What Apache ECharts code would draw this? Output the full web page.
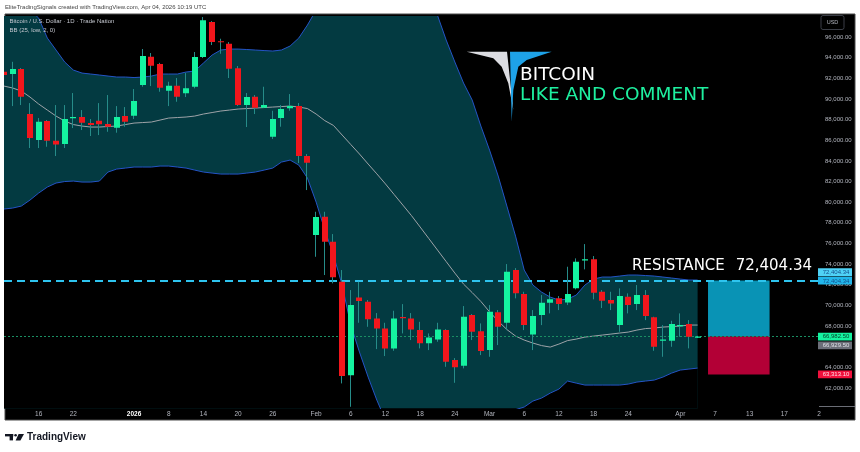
<!DOCTYPE html>
<html><head><meta charset="utf-8">
<script src="https://cdn.jsdelivr.net/npm/echarts@6/dist/echarts.min.js"></script>
<style>html,body{margin:0;padding:0;background:#fff;}#c{width:860px;height:452px;}</style>
</head><body><div id="c"></div>
<script>
// ---- data ----
const dates = ['2025-12-10','2025-12-11','2025-12-12','2025-12-15','2025-12-16','2025-12-17','2025-12-18','2025-12-19','2025-12-22','2025-12-23','2025-12-24','2025-12-26','2025-12-29','2025-12-30','2025-12-31',
'2026-01-02','2026-01-05','2026-01-06','2026-01-07','2026-01-08','2026-01-09','2026-01-12','2026-01-13','2026-01-14','2026-01-15','2026-01-16','2026-01-19','2026-01-20','2026-01-21','2026-01-22','2026-01-23','2026-01-26','2026-01-27','2026-01-28','2026-01-29','2026-01-30',
'2026-02-02','2026-02-03','2026-02-04','2026-02-05','2026-02-06','2026-02-09','2026-02-10','2026-02-11','2026-02-12','2026-02-13','2026-02-16','2026-02-17','2026-02-18','2026-02-19','2026-02-20','2026-02-23','2026-02-24','2026-02-25','2026-02-26','2026-02-27',
'2026-03-02','2026-03-03','2026-03-04','2026-03-05','2026-03-06','2026-03-09','2026-03-10','2026-03-11','2026-03-12','2026-03-13','2026-03-16','2026-03-17','2026-03-18','2026-03-19','2026-03-20','2026-03-23','2026-03-24','2026-03-25','2026-03-26','2026-03-27','2026-03-30','2026-03-31',
'2026-04-01','2026-04-02','2026-04-03','2026-04-06','2026-04-07','2026-04-08','2026-04-09','2026-04-10','2026-04-13','2026-04-14','2026-04-15','2026-04-16','2026-04-17','2026-04-20','2026-04-21','2026-04-22','2026-04-23'];

const tickIndex = [4,8,15,19,23,27,31,36,40,44,48,52,56,60,64,68,72,78,82,86,90,94];
const tickText  = ['16','22','2026','8','14','20','26','Feb','6','12','18','24','Mar','6','12','18','24','Apr','7','13','17','2'];

const open  = [92640,92415,92900,88540,86020,87860,85950,85630,88200,88250,87670,87890,87570,87210,88345,88375,91350,94090,93385,90800,91280,90545,91185,94060,97455,95600,95350,92965,89410,90215,89150,86340,88150,89090,89315,84470,76815,78590,76165,72290,63220,70775,70350,68740,67770,65835,68870,68740,67605,66320,66705,67605,64700,64150,69060,67505,65670,69325,68315,73425,71095,67190,69060,70255,70680,70290,71650,74400,74460,71320,70515,68090,70835,70125,71000,68840,66570,66570,67990,68185,66900];
const close = [92320,92900,90215,86210,87790,85950,85600,88055,88250,87700,87470,87540,87310,88250,87790,89800,94160,93220,91090,91280,90215,91030,94060,97620,95515,95545,92930,89410,90185,89150,89410,88055,89020,89315,84470,83820,78560,76165,72715,63150,70030,70420,68645,67770,65835,68740,68840,67670,66320,66900,67670,64535,63995,68895,67440,65575,69380,67925,73260,71165,68090,68965,70255,70585,70125,71095,74225,74460,71225,70445,70195,70905,70030,71000,68965,65990,66705,68185,68090,66960,66982.5];
const low   = [92030,89310,89410,85245,85245,85370,84470,85245,87180,86990,86410,86500,86820,86730,87310,88055,91185,91250,90700,89310,89730,90185,91030,93965,95225,94380,92030,89310,87280,88540,89120,86115,87310,88860,83790,81175,74710,72940,72135,62440,60175,68315,67925,65765,65090,65600,67285,66640,65835,65670,66475,64050,62500,63895,66640,65185,65020,66155,67605,70680,67605,65670,68090,69225,69545,70030,71550,73490,70585,69740,69545,67440,69225,69545,68575,65600,65020,65990,66960,65835,66850];
const high  = [92900,93600,93000,89600,88150,87960,89410,89410,90575,88925,88055,89600,90380,89310,89215,90960,94840,94450,93500,91670,92030,92510,94550,97940,97550,95835,95515,93190,90575,90380,91185,88860,89410,90475,89605,84665,79070,79070,76910,73425,71485,72290,70515,69255,68315,69480,70125,69255,68410,67285,68315,67700,64895,69935,69160,68255,70030,69545,74005,73615,71320,69545,71000,71320,70905,73745,74555,75940,74780,71485,71320,71650,71165,71970,71485,68900,68090,68510,69225,68575,67050];

const bbUpper  = [100550,100070,99390,98620,97840,95900,94740,93580,92800,92510,92415,92320,92220,92125,92125,92075,92125,92220,92415,92415,92415,92610,92705,93480,94255,94740,94835,94835,94790,94740,94690,94645,94740,95130,95905,97165,98615,99300,100000,100800,101400,101700,101800,101700,101500,101200,100900,100400,99800,99000,98100,95710,93580,91545,89895,87375,85050,82530,79625,76715,73425,71970,71290,70805,70515,70610,71000,71970,72550,72745,72745,72840,72940,72940,72890,72840,72745,72650,72550,72455,72455];
const bbMiddle = [91250,91060,90770,90185,89510,88925,88345,87860,87520,87375,87280,87280,87330,87375,87520,87665,87715,87765,87955,88150,88200,88250,88345,88540,88685,88830,88925,89025,89070,89120,89170,89215,89265,89315,89215,89070,88540,87900,87435,86505,85585,84665,83695,82745,81765,80740,79720,78695,77590,76475,75360,74245,73130,72065,71240,70380,69380,68480,67660,67030,66640,66350,66105,65960,66250,66590,66735,66930,67025,67125,67220,67320,67415,67610,67755,67805,67900,67950,67995,68095,68095];
const bbLower  = [79335,79430,79625,80205,80885,81465,81855,82000,82045,81950,81950,82045,82920,83210,83305,83405,83405,83405,83500,83500,83405,83305,83110,82920,82820,82725,82725,82725,82820,82920,83110,83305,83885,84080,83595,82335,80010,77300,74875,71970,68095,65475,63055,60825,58890,57900,57100,56400,55900,55600,55500,55600,55900,56400,57000,57800,58600,59300,59700,59900,60150,60730,61020,61500,61890,62670,62470,62280,62280,62280,62280,62280,62375,62570,62670,62765,63055,63440,63735,63830,63925];

const resistance = 72404.34;
const lastPrice = 66982.50;
const basisPrice = 66929.50;
const stopPrice = 63313.10;
const boxStart = 81.2, boxEnd = 88.3;

// ---- styles ----
const GREEN = '#14f3a0', RED = '#f2161c', WICK = '#268c89';
const BAND_FILL = '#033a41', BAND_LINE = '#2454c6', BASIS = '#9ea3a8';
const fmt = v => v.toLocaleString('en-US', {minimumFractionDigits:2, maximumFractionDigits:2});

const candles = open.map((o,i)=>[i, o, close[i], low[i], high[i]]);

function renderCandle(params, api){
  const i = api.value(0), o = api.value(1), c = api.value(2), l = api.value(3), h = api.value(4);
  const pH = api.coord([i,h]), pL = api.coord([i,l]), pO = api.coord([i,o]), pC = api.coord([i,c]);
  const w = 6;
  const bx = Math.round(pO[0] - w/2);
  const top = Math.min(pO[1], pC[1]), bot = Math.max(pO[1], pC[1]);
  const up = c >= o;
  return {type:'group', children:[
    {type:'line', shape:{x1:bx+2.5, y1:pH[1], x2:bx+2.5, y2:pL[1]}, style:{stroke:WICK, lineWidth:1}},
    {type:'rect', shape:{x:bx, y:top, width:w, height:Math.max(bot-top,1.2)}, style:{fill: up?GREEN:RED}}
  ]};
}

const option = {
  animation:false,
  backgroundColor:'#ffffff',
  grid:{left:4, width:815, top:16.4, height:392.2},
  xAxis:{type:'value', min:0, max:94, interval:1,
    axisLine:{show:false}, axisTick:{show:false}, splitLine:{show:false},
    axisLabel:{margin:2, color:'#b2b5be', fontSize:6.5, fontFamily:'Liberation Sans',
      formatter:(v)=>{const k = tickIndex.indexOf(Math.round(v)); if(k<0) return ''; const t = tickText[k]; return t==='2026' ? '{y|2026}' : t;},
      rich:{y:{color:'#ffffff', fontWeight:'bold', fontSize:6.5, fontFamily:'Liberation Sans'}}}},
  yAxis:{type:'value', position:'right', min:60000, max:98000, interval:2000,
    axisLine:{show:false}, axisTick:{show:false}, splitLine:{show:false},
    axisLabel:{margin:6, color:'#b2b5be', fontSize:6, fontFamily:'Liberation Sans', showMinLabel:false, showMaxLabel:false, formatter:v=>fmt(v)}},
  series:[
    {name:'upper', type:'line', data:bbUpper.map((v,i)=>[i,v]), symbol:'none', silent:true, z:2,
      lineStyle:{color:BAND_LINE, width:1}, areaStyle:{color:BAND_FILL, opacity:1, origin:'start'}},
    {name:'lower', type:'line', data:bbLower.map((v,i)=>[i,v]), symbol:'none', silent:true, z:3,
      lineStyle:{color:BAND_LINE, width:1}, areaStyle:{color:'#000000', opacity:1, origin:'start'}},
    {name:'basis', type:'line', data:bbMiddle.map((v,i)=>[i,v]), symbol:'none', silent:true, z:4,
      lineStyle:{color:BASIS, width:1}},
    {name:'candles', type:'custom', renderItem:renderCandle, data:candles, z:5, clip:true,
      dimensions:['x','open','close','low','high'], encode:{x:0, y:[1,2,3,4]}},
    {name:'levels', type:'line', data:[], z:6, silent:true,
      markArea:{silent:true, data:[
        [{coord:[boxStart,lastPrice], itemStyle:{color:'#0993b5', opacity:1}},{coord:[boxEnd,resistance]}],
        [{coord:[boxStart,stopPrice], itemStyle:{color:'#b30036', opacity:1}},{coord:[boxEnd,lastPrice]}]
      ]},
      markLine:{symbol:'none', silent:true, label:{show:false}, data:[
        {yAxis:lastPrice, lineStyle:{color:'#1a8f63', width:1, type:[2,2]}},
        {yAxis:resistance, lineStyle:{color:'#2ec4ef', width:2, type:[8,5]}}
      ]}}
  ]
};

const chart = echarts.init(document.getElementById('c'), null, {renderer:'canvas'});
chart.setOption(option);

const py = v => chart.convertToPixel({yAxisIndex:0}, v);
function txt(x, y, text, font, fill, align, z){
  return {type:'text', x:x, y:y, z:z||50, silent:true, style:{text:text, font:font, fill:fill,
    align:align||'left', verticalAlign:'middle', textAlign:align||'left', textVerticalAlign:'middle'}};
}
function priceBox(yc, bg, fg, text){
  return [
    {type:'rect', z:100, silent:true, shape:{x:818, y:yc-3.9, width:34, height:7.8}, style:{fill:bg}},
    txt(836, yc+0.3, text, '6px "Liberation Sans", Arial, sans-serif', fg, 'center', 101)
  ];
}
const yR = py(resistance), yL = py(lastPrice), yS = py(stopPrice);
const SMALL = '6px "Liberation Sans", Arial, sans-serif';
const graphics = [
  {type:'rect', z:-1, silent:true, shape:{x:5, y:14, width:850, height:406}, style:{fill:'#000000', stroke:'#4a4a4a', lineWidth:1}},
  txt(5, 7, 'EliteTradingSignals created with TradingView.com, Apr 04, 2026 10:19 UTC', SMALL, '#444444'),
  txt(9.5, 21.7, 'Bitcoin / U.S. Dollar · 1D · Trade Nation', SMALL, '#c5c8d0'),
  txt(9.5, 30.3, 'BB (25, low, 2, 0)', SMALL, '#c5c8d0'),
  {type:'rect', z:50, silent:true, shape:{x:821, y:15.5, width:23, height:14, r:2}, style:{fill:'#000', stroke:'#3a3d46', lineWidth:1}},
  txt(832.5, 22.7, 'USD', '5.5px "Liberation Sans", Arial, sans-serif', '#b2b5be', 'center'),
  {type:'line', z:50, silent:true, shape:{x1:819, y1:406.5, x2:855, y2:406.5}, style:{stroke:'#6a6d75', lineWidth:1}},
  // logo
  {type:'polygon', z:50, silent:true, shape:{points:[[466.7,51.7],[507,51.7],[513.3,110],[508.3,83.3],[501.7,66.7],[493.3,58.3]]}, style:{fill:'#dcdde2'}},
  {type:'polygon', z:51, silent:true, shape:{points:[[510,51.7],[551.7,51.7],[526.7,60],[518.3,66.7],[513.3,90],[511.7,121.7]]}, style:{fill:'#1ea2e8'}},
  txt(520, 75, 'BITCOIN', '18.5px "DejaVu Sans", sans-serif', '#ffffff'),
  txt(520, 95.3, 'LIKE AND COMMENT', '18.5px "DejaVu Sans", sans-serif', '#1ef0a0'),
  // resistance text
  txt(632, yR-14, 'RESISTANCE', '15px "DejaVu Sans", sans-serif', '#ffffff'),
  txt(812, yR-14, fmt(resistance), '15px "DejaVu Sans", sans-serif', '#ffffff', 'right'),
  // footer
  {type:'rect', z:50, silent:true, shape:{x:5, y:434, width:8.3, height:2.4}, style:{fill:'#131722'}},
  {type:'rect', z:50, silent:true, shape:{x:9.6, y:434, width:3.4, height:6.4}, style:{fill:'#131722'}},
  {type:'circle', z:50, silent:true, shape:{cx:15.6, cy:435.3, r:1.3}, style:{fill:'#131722'}},
  {type:'polygon', z:50, silent:true, shape:{points:[[18.6,434],[24,434],[20.4,440.4],[15.6,440.4]]}, style:{fill:'#131722'}},
  txt(27, 437.2, 'TradingView', 'bold 10px "Liberation Sans", Arial, sans-serif', '#131722')
]
.concat(priceBox(yR-8.3, '#4fd2f6', '#14508c', fmt(resistance)))
.concat(priceBox(yR, '#22b6ea', '#14508c', fmt(resistance)))
.concat(priceBox(yL, '#14f3a0', '#063a26', fmt(lastPrice)))
.concat(priceBox(yL+8.9, '#6b6e78', '#e0e2e8', fmt(basisPrice)))
.concat(priceBox(yS, '#f0103c', '#ffe0e6', fmt(stopPrice)));

chart.setOption({graphic: graphics});
</script>
</body></html>
